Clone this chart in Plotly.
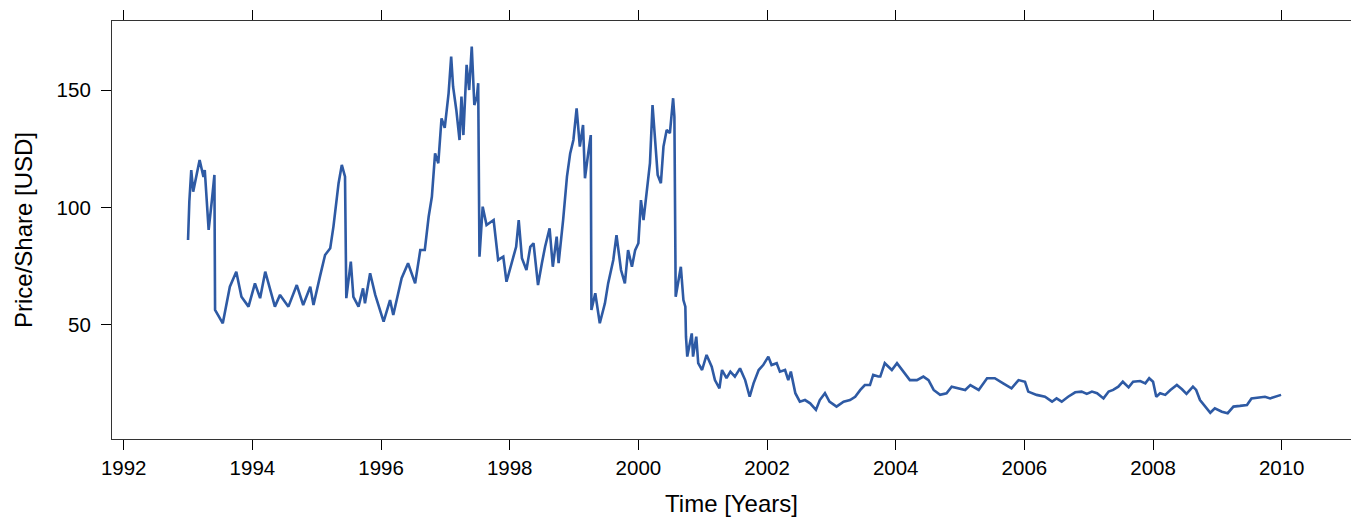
import plotly.graph_objects as go

# Time in decimal years, price per share in USD
years = [
    1993.00, 1993.02, 1993.05, 1993.08, 1993.18, 1993.24, 1993.26, 1993.32, 1993.37, 1993.41,
    1993.42, 1993.54, 1993.65, 1993.75, 1993.83, 1993.94, 1994.04, 1994.12, 1994.20, 1994.35,
    1994.43, 1994.56, 1994.69, 1994.79, 1994.90, 1994.95, 1995.05, 1995.13, 1995.21, 1995.26,
    1995.34, 1995.39, 1995.44, 1995.46, 1995.53, 1995.57, 1995.65, 1995.72, 1995.75, 1995.83,
    1995.91, 1996.04, 1996.14, 1996.19, 1996.32, 1996.42, 1996.53, 1996.61, 1996.68, 1996.74,
    1996.79, 1996.84, 1996.89, 1996.94, 1996.99, 1997.05, 1997.09, 1997.12, 1997.17, 1997.22,
    1997.25, 1997.28, 1997.33, 1997.37, 1997.41, 1997.45, 1997.49, 1997.51, 1997.53, 1997.58,
    1997.64, 1997.75, 1997.82, 1997.90, 1997.95, 1998.03, 1998.10, 1998.14, 1998.19, 1998.26,
    1998.32, 1998.37, 1998.44, 1998.50, 1998.55, 1998.62, 1998.67, 1998.73, 1998.76, 1998.83,
    1998.89, 1998.94, 1998.99, 1999.04, 1999.09, 1999.14, 1999.17, 1999.22, 1999.26, 1999.27,
    1999.33, 1999.40, 1999.48, 1999.53, 1999.61, 1999.66, 1999.73, 1999.79, 1999.84, 1999.90,
    1999.95, 2000.00, 2000.04, 2000.08, 2000.13, 2000.18, 2000.22, 2000.26, 2000.30, 2000.35,
    2000.39, 2000.44, 2000.49, 2000.54, 2000.56, 2000.58, 2000.66, 2000.70, 2000.73, 2000.74,
    2000.76, 2000.83, 2000.85, 2000.90, 2000.93, 2000.99, 2001.06, 2001.14, 2001.19, 2001.26,
    2001.30, 2001.37, 2001.43, 2001.50, 2001.58, 2001.66, 2001.73, 2001.79, 2001.87, 2001.94,
    2002.02, 2002.07, 2002.15, 2002.20, 2002.28, 2002.33, 2002.37, 2002.44, 2002.51, 2002.59,
    2002.67, 2002.76, 2002.82, 2002.90, 2002.97, 2003.08, 2003.19, 2003.29, 2003.37, 2003.45,
    2003.52, 2003.60, 2003.65, 2003.73, 2003.76, 2003.83, 2003.94, 2004.02, 2004.12, 2004.22,
    2004.33, 2004.43, 2004.51, 2004.59, 2004.69, 2004.79, 2004.87, 2004.97, 2005.08, 2005.16,
    2005.29, 2005.42, 2005.54, 2005.67, 2005.80, 2005.91, 2006.01, 2006.06, 2006.19, 2006.32,
    2006.43, 2006.50, 2006.58, 2006.68, 2006.79, 2006.89, 2006.97, 2007.05, 2007.13, 2007.23,
    2007.31, 2007.38, 2007.46, 2007.53, 2007.62, 2007.69, 2007.80, 2007.88, 2007.94, 2008.00,
    2008.05, 2008.11, 2008.19, 2008.27, 2008.37, 2008.45, 2008.52, 2008.62, 2008.67, 2008.73,
    2008.81, 2008.89, 2008.96, 2009.07, 2009.16, 2009.25, 2009.35, 2009.46, 2009.53, 2009.64,
    2009.74, 2009.82, 2009.92, 2009.99,
]
price = [
    86.2, 102.5, 116.0, 106.8, 120.3, 113.0, 116.0, 90.5, 103.0, 113.9,
    56.4, 50.7, 66.3, 72.7, 62.0, 57.8, 67.7, 61.4, 72.7, 57.8,
    62.8, 57.8, 67.0, 58.5, 66.3, 58.5, 70.6, 79.8, 82.7, 91.9,
    110.4, 118.2, 113.2, 61.4, 77.0, 62.0, 57.8, 65.6, 59.2, 72.0,
    62.8, 51.4, 60.6, 54.2, 69.9, 76.3, 67.7, 81.9, 81.9, 96.1,
    104.6, 123.1, 118.9, 138.0, 134.0, 148.7, 164.3, 151.5, 141.6, 128.8,
    147.3, 130.9, 160.8, 150.1, 168.6, 143.7, 147.3, 153.0, 79.1, 100.4,
    92.6, 94.7, 77.7, 79.1, 68.4, 76.3, 83.3, 94.7, 78.4, 73.4,
    83.3, 84.8, 67.0, 76.3, 83.3, 91.2, 74.8, 87.6, 76.3, 94.7,
    113.2, 123.1, 128.8, 142.3, 126.0, 135.2, 112.5, 123.1, 130.9, 56.4,
    63.5, 50.7, 59.2, 67.7, 77.7, 88.3, 73.4, 67.7, 81.9, 74.8,
    81.9, 84.8, 103.2, 94.7, 107.5, 118.9, 143.7, 128.8, 113.9, 110.4,
    126.0, 133.1, 131.7, 146.6, 138.7, 62.0, 74.8, 60.6, 57.8, 45.0,
    36.5, 46.4, 36.5, 45.0, 33.7, 30.8, 37.2, 32.2, 26.5, 23.0,
    30.8, 27.3, 30.1, 28.0, 31.5, 26.5, 19.4, 25.1, 30.8, 32.9,
    36.5, 32.9, 33.7, 30.1, 30.8, 26.5, 30.1, 20.9, 17.3, 18.0,
    16.6, 13.8, 18.0, 20.9, 17.3, 15.2, 17.3, 18.0, 19.4, 22.3,
    24.4, 24.4, 28.7, 28.0, 28.0, 33.7, 30.8, 33.7, 30.1, 26.5,
    26.5, 28.0, 26.5, 22.3, 20.2, 20.9, 23.7, 23.0, 22.3, 24.4,
    22.3, 27.3, 27.3, 25.1, 23.0, 26.5, 25.8, 21.6, 20.2, 19.4,
    17.3, 18.7, 17.3, 19.4, 21.3, 21.6, 20.6, 21.6, 20.9, 18.7,
    21.6, 22.3, 23.7, 25.8, 23.4, 25.8, 26.1, 25.1, 27.3, 25.8,
    19.4, 20.9, 20.2, 22.3, 24.4, 22.6, 20.6, 23.7, 22.3, 18.0,
    15.2, 12.6, 14.5, 13.0, 12.4, 15.2, 15.5, 15.9, 18.7, 19.2,
    19.4, 18.7, 19.7, 20.2,
]

x_ticks = [1992, 1994, 1996, 1998, 2000, 2002, 2004, 2006, 2008, 2010]
y_ticks = [50, 100, 150]

FONT = "Liberation Sans, Arial, Helvetica, sans-serif"
FRAME = "#333333"

fig = go.Figure()
fig.add_trace(go.Scatter(
    x=years, y=price, mode="lines",
    line=dict(color="#2E5AA4", width=2.6),
    hoverinfo="x+y", showlegend=False,
))

fig.update_layout(
    width=1351, height=518,
    margin=dict(l=112, r=0, t=21, b=79, autoexpand=False),
    paper_bgcolor="white", plot_bgcolor="white",
    font=dict(family=FONT, size=20.5, color="black"),
    xaxis=dict(
        range=[1991.818, 2011.077],
        tickvals=x_ticks, ticktext=[str(v) for v in x_ticks],
        ticks="outside", ticklen=10, tickwidth=1, tickcolor="black",
        showline=True, linecolor=FRAME, linewidth=1.2, mirror="ticks",
        showgrid=False, zeroline=False,
        tickfont=dict(size=20.5, color="black"),
        title=dict(text="Time [Years]", font=dict(size=24, color="black"), standoff=17),
    ),
    yaxis=dict(
        range=[1.4, 179.5],
        tickvals=y_ticks, ticktext=[str(v) for v in y_ticks],
        ticks="outside", ticklen=10, tickwidth=1, tickcolor="black",
        showline=True, linecolor=FRAME, linewidth=1.2, mirror=False,
        showgrid=False, zeroline=False,
        ticklabelstandoff=6,
        tickfont=dict(size=20.5, color="black"),
        title=dict(text="Price/Share [USD]", font=dict(size=24, color="black"), standoff=17),
    ),
)

fig.write_html(
    "out.html",
    config={"displayModeBar": False},
    post_script="document.body.style.margin='0';document.body.style.overflow='hidden';",
)
